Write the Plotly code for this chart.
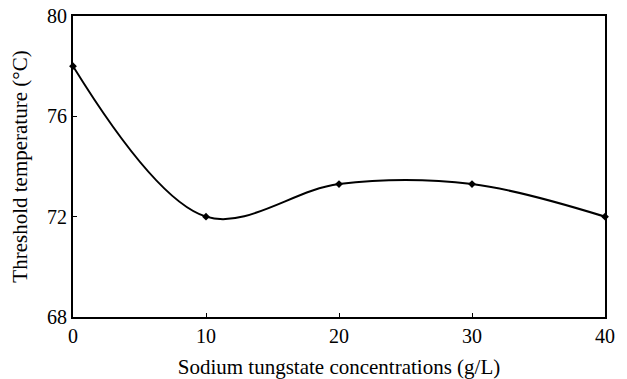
import plotly.graph_objects as go

concentrations = [0, 10, 20, 30, 40]
threshold_temp = [78.0, 72.0, 73.3, 73.3, 72.0]
x_ticks = [0, 10, 20, 30, 40]
y_ticks = [68, 72, 76, 80]

fig = go.Figure()
fig.add_trace(go.Scatter(
    x=concentrations, y=threshold_temp,
    mode="lines+markers",
    line=dict(color="black", width=2, shape="spline", smoothing=1.0),
    marker=dict(symbol="diamond", size=6, color="black"),
    showlegend=False,
    cliponaxis=False,
))

font = dict(family="Liberation Serif", size=17.5, color="black")

fig.update_layout(
    width=627, height=379,
    margin=dict(l=73, r=22, t=16, b=62),
    paper_bgcolor="white", plot_bgcolor="white",
    font=font,
)
fig.update_xaxes(
    range=[0, 40], tickvals=x_ticks, ticks="inside", ticklen=4, tickcolor="black",
    showline=True, linecolor="black", linewidth=2, mirror=True,
    showgrid=False, zeroline=False, automargin=False, ticklabeloverflow="allow",
    title=dict(text="Sodium tungstate concentrations (g/L)", standoff=14),
    tickfont=dict(size=20),
)
fig.update_yaxes(
    range=[68, 80], tickvals=y_ticks, ticks="inside", ticklen=4, tickcolor="black",
    showline=True, linecolor="black", linewidth=2, mirror=True,
    showgrid=False, zeroline=False, automargin=False, ticklabeloverflow="allow",
    title=dict(text="Threshold temperature (°C)", standoff=14),
    tickfont=dict(size=20),
)

fig.write_html(
    "out.html",
    config={"displayModeBar": False},
    post_script="document.body.style.margin='0';",
)
